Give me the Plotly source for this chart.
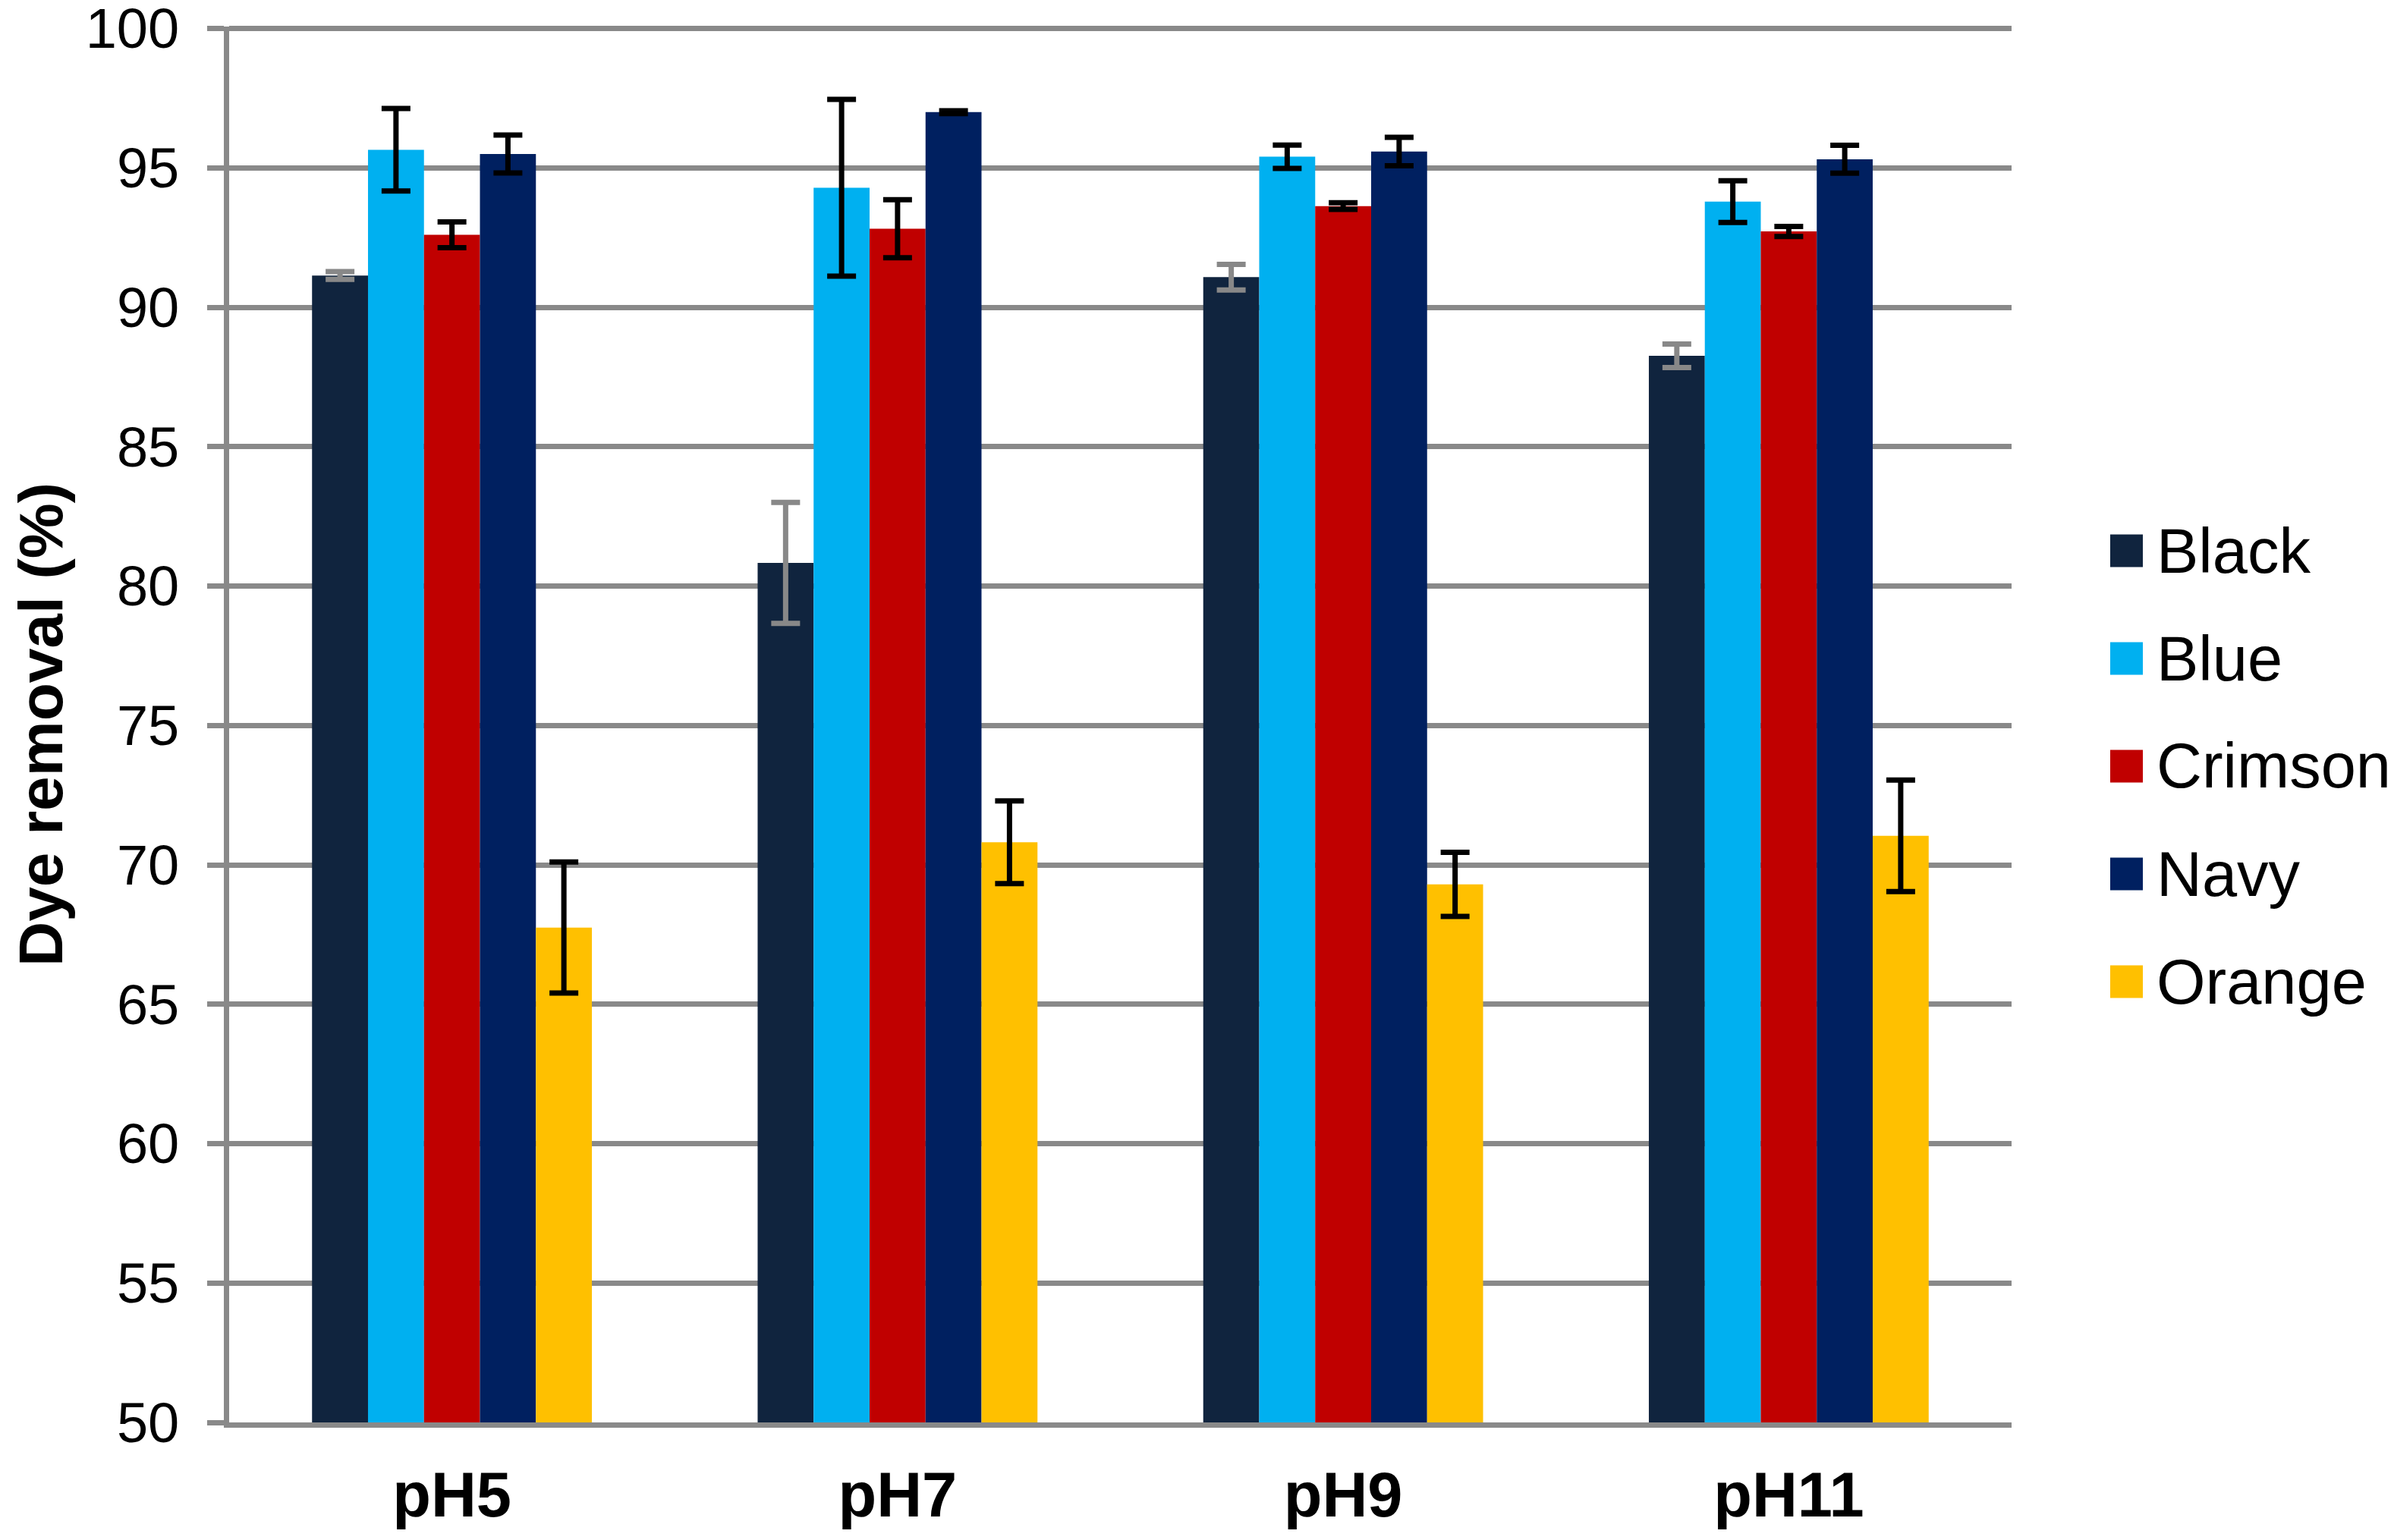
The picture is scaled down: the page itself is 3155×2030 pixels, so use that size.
import plotly.graph_objects as go

# ---- data ----
categories = ["pH5", "pH7", "pH9", "pH11"]
series_names = ["Black", "Blue", "Crimson", "Navy", "Orange"]
black_vals = [91.14, 80.83, 91.08, 88.26]
black_err = [0.14, 2.17, 0.46, 0.42]
blue_vals = [95.65, 94.29, 95.40, 93.79]
blue_err = [1.48, 3.17, 0.42, 0.75]
crimson_vals = [92.60, 92.82, 93.63, 92.72]
crimson_err = [0.46, 1.04, 0.12, 0.18]
navy_vals = [95.50, 97.00, 95.59, 95.31]
navy_err = [0.68, 0.05, 0.51, 0.50]
orange_vals = [67.75, 70.81, 69.30, 71.04]
orange_err = [2.35, 1.48, 1.15, 2.00]
y_ticks = [50, 55, 60, 65, 70, 75, 80, 85, 90, 95, 100]

# ---- styles ----
colors = ["#10243E", "#00B0F0", "#C00000", "#002060", "#FFC000"]
err_colors = ["#888888", "#000000", "#000000", "#000000", "#000000"]
values = [black_vals, blue_vals, crimson_vals, navy_vals, orange_vals]
errors = [black_err, blue_err, crimson_err, navy_err, orange_err]

W, H = 3155, 2030
L, R, T, B = 294, 512, 27, 163
FONT = "Liberation Sans, Arial, sans-serif"
GRID = "#898989"

fig = go.Figure()
for name, vals, errs, col, ecol in zip(series_names, values, errors, colors, err_colors):
    fig.add_trace(go.Bar(
        name=name, x=categories, y=vals,
        marker=dict(color=col, line=dict(width=0)),
        error_y=dict(type="data", array=errs, visible=True,
                     color=ecol, thickness=7, width=19),
        showlegend=False,
    ))

# ---- custom legend (large square keys like the original) ----
pw = W - L - R
ph = H - T - B
def px_x(x):
    return (x - L) / pw
def px_y(y):
    return 1 - (y - T) / ph

shapes = []
annotations = []
first_center = 718
step = 142
sq = 43
for i, (name, col) in enumerate(zip(series_names, colors)):
    cy = first_center + i * step
    shapes.append(dict(type="rect", xref="paper", yref="paper",
                       x0=px_x(2773), x1=px_x(2773 + sq),
                       y0=px_y(cy + sq / 2), y1=px_y(cy - sq / 2),
                       fillcolor=col, line=dict(width=0)))
    annotations.append(dict(xref="paper", yref="paper", x=px_x(2832), y=px_y(cy),
                            xanchor="left", yanchor="middle", showarrow=False,
                            text=name, font=dict(family=FONT, size=83, color="black")))

fig.update_layout(
    width=W, height=H,
    margin=dict(l=L, r=R, t=T, b=B, autoexpand=False),
    paper_bgcolor="white", plot_bgcolor="white",
    barmode="group", bargap=0.372, bargroupgap=0,
    showlegend=False,
    shapes=shapes, annotations=annotations,
    font=dict(family=FONT, color="black"),
)
fig.update_xaxes(
    type="category", showgrid=False,
    showline=True, linecolor=GRID, linewidth=7,
    ticks="", tickfont=dict(family=FONT, size=83, color="black", weight="bold"),
    ticklabelstandoff=17,
)
fig.update_yaxes(
    range=[50, 100.07], tickvals=y_ticks,
    showgrid=True, gridcolor=GRID, gridwidth=7,
    showline=True, linecolor=GRID, linewidth=7,
    ticks="outside", ticklen=22, tickwidth=7, tickcolor=GRID,
    tickfont=dict(family=FONT, size=74, color="black"),
    ticklabelstandoff=22, ticklabeloverflow="allow",
    zeroline=False,
    title=dict(text="Dye removal (%)", font=dict(family=FONT, size=82, color="black", weight="bold"),
               standoff=52),
)

fig.write_html("out.html")
